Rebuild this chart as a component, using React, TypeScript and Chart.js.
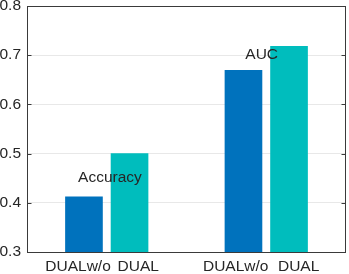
import React, { useEffect, useRef } from "react";
import { Chart, registerables } from "chart.js";

Chart.register(...registerables);

const categories = ["DUALw/o", "DUAL", "DUALw/o", "DUAL"];
const barPositions = [1.25, 2.25, 4.75, 5.75];
const values = [0.412, 0.5, 0.669, 0.718];
const barColors = ["#0072BD", "#00BDBD", "#0072BD", "#00BDBD"];
const xTickPositions = [1.12, 2.44, 4.58, 5.96];
const groupLabels = ["Accuracy", "AUC"];
const groupLabelX = [1.12, 4.79];
const groupLabelY = [0.45, 0.7];
const yTickValues = [0.3, 0.4, 0.5, 0.6, 0.7, 0.8];

const FONT = "'Liberation Sans', Arial, Helvetica, sans-serif";
const TEXT = "#262626";

export default function App() {
  const ref = useRef<HTMLCanvasElement>(null);
  useEffect(() => {
    if (!ref.current) return;
    const boxPlugin = {
      id: "boxPlugin",
      afterDatasetsDraw(chart: any) {
        const { ctx, chartArea } = chart;
        const xs = chart.scales.x;
        const ys = chart.scales.y;
        ctx.save();
        ctx.fillStyle = TEXT;
        ctx.font = `15.5px ${FONT}`;
        ctx.textAlign = "left";
        ctx.textBaseline = "middle";
        groupLabels.forEach((t, i) => {
          ctx.fillText(t, xs.getPixelForValue(groupLabelX[i]), ys.getPixelForValue(groupLabelY[i]));
        });
        ctx.strokeStyle = "#3a3a3a";
        ctx.lineWidth = 1;
        const l = Math.round(chartArea.left) + 0.5;
        const r = Math.round(chartArea.right) - 0.5;
        const t = Math.round(chartArea.top) + 0.5;
        const b = Math.round(chartArea.bottom) + 0.5;
        ctx.strokeRect(l, t, r - l, b - t);
        ctx.beginPath();
        yTickValues.forEach((v) => {
          const y = Math.round(ys.getPixelForValue(v)) + 0.5;
          ctx.moveTo(l, y);
          ctx.lineTo(l + 4, y);
          ctx.moveTo(r, y);
          ctx.lineTo(r - 4, y);
        });
        ctx.stroke();
        ctx.restore();
      },
    };
    const chart = new Chart(ref.current, {
      type: "bar",
      data: {
        datasets: [
          {
            data: barPositions.map((x, i) => ({ x, y: values[i] })),
            backgroundColor: barColors,
            borderWidth: 0,
            barThickness: 37,
          },
        ],
      },
      options: {
        animation: false,
        responsive: false,
        layout: { padding: { top: 6, right: 3, left: 0, bottom: 0 } },
        plugins: { legend: { display: false }, tooltip: { enabled: false } },
        scales: {
          x: {
            type: "linear",
            min: 0,
            max: 7,
            offset: false,
            grid: { display: false, drawTicks: false, offset: false },
            border: { display: false },
            afterBuildTicks: (s: any) => {
              s.ticks = xTickPositions.map((v) => ({ value: v }));
            },
            afterFit: (s: any) => {
              s.height = 22;
              s.paddingLeft = 0;
              s.paddingRight = 0;
            },
            ticks: {
              autoSkip: false,
              maxRotation: 0,
              padding: 5,
              color: TEXT,
              font: { family: FONT, size: 15.5 },
              callback: (_v: any, i: number) => categories[i],
            },
          },
          y: {
            min: 0.3,
            max: 0.8,
            afterBuildTicks: (s: any) => {
              s.ticks = yTickValues.map((v) => ({ value: v }));
            },
            afterFit: (s: any) => {
              s.width = 27;
              s.paddingTop = 0;
              s.paddingBottom = 0;
            },
            grid: { color: "#e8e8e8", drawTicks: false },
            border: { display: false },
            ticks: {
              padding: 6,
              color: TEXT,
              font: { family: FONT, size: 15.5 },
              callback: (v: any) => Number(v).toFixed(1),
            },
          },
        },
      },
      plugins: [boxPlugin],
    });
    return () => chart.destroy();
  }, []);
  return (
    <canvas
      ref={ref}
      width={349}
      height={274}
      style={{ position: "fixed", left: 0, top: 0, width: 349, height: 274 }}
    />
  );
}
